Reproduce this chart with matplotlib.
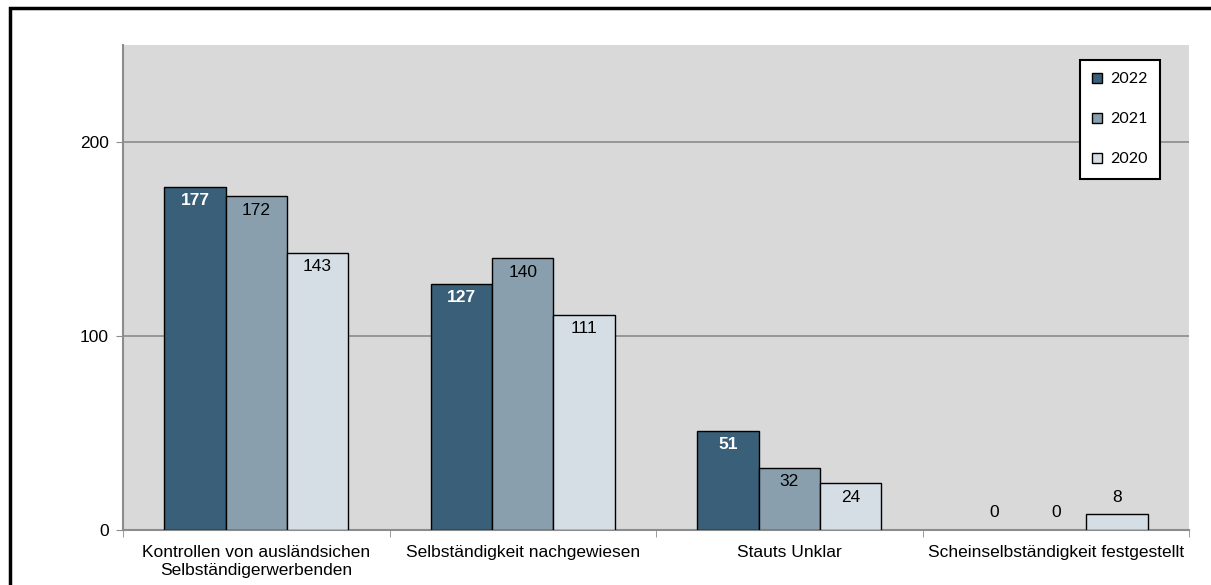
import matplotlib.pyplot as plt
import numpy as np
from matplotlib.patches import Rectangle

categories = ["Kontrollen von ausländsichen\nSelbständigerwerbenden",
              "Selbständigkeit nachgewiesen",
              "Stauts Unklar",
              "Scheinselbständigkeit festgestellt"]
years = ["2022", "2021", "2020"]
v2022 = [177, 127, 51, 0]
v2021 = [172, 140, 32, 0]
v2020 = [143, 111, 24, 8]

colors = ["#3a5f78", "#8a9fae", "#d6dee5"]
series = [v2022, v2021, v2020]

plt.rcParams["font.family"] = ["Liberation Sans", "DejaVu Sans"]

fig = plt.figure(figsize=(12.11, 5.85), dpi=100)
ax = fig.add_axes([123 / 1211, 1 - 530 / 585, (1189 - 123) / 1211, (530 - 45) / 585])
ax.set_facecolor("#d9d9d9")

x = np.arange(len(categories))
w = 0.23
fs = 12.5
for k, (vals, c, lab) in enumerate(zip(series, colors, years)):
    xs = x + (k - 1) * w
    lws = [1.0 if v > 0 else 0 for v in vals]
    ax.bar(xs, vals, w, color=c, edgecolor="black", linewidth=lws,
           label=lab, zorder=3)
    for xi, v in zip(xs, vals):
        if v >= 20:
            ax.annotate(str(v), (xi, v), xytext=(0, -10), textcoords="offset points",
                        ha="center", va="center", fontsize=fs,
                        color="white" if k == 0 else "black",
                        fontweight="bold" if k == 0 else "normal", zorder=4)
        else:
            ax.annotate(str(v), (xi, v), xytext=(0, 12.5), textcoords="offset points",
                        ha="center", va="center", fontsize=fs, color="black", zorder=4)

ax.set_xlim(-0.5, len(categories) - 0.5)
ax.set_ylim(0, 250)
ax.set_yticks([0, 100, 200])
ax.tick_params(axis="y", labelsize=fs, length=5, color="#8c8c8c", pad=5)
ax.yaxis.grid(True, color="#8c8c8c", linewidth=1.2, zorder=0)
ax.set_axisbelow(True)

ax.set_xticks(x)
ax.set_xticklabels(categories, fontsize=fs, linespacing=1.2)
ax.tick_params(axis="x", length=0, pad=11)
ax.set_xticks(np.arange(-0.5, len(categories)), minor=True)
ax.tick_params(axis="x", which="minor", length=5, color="#8c8c8c")

for s in ["top", "right"]:
    ax.spines[s].set_visible(False)
for s in ["left", "bottom"]:
    ax.spines[s].set_color("#8c8c8c")
    ax.spines[s].set_linewidth(1.5)

leg = ax.legend(loc="upper right", bbox_to_anchor=(0.9728, 0.969), frameon=True,
                fancybox=False, edgecolor="black", framealpha=1,
                prop={"family": "Lato", "size": 11.5}, labelspacing=1.62,
                handlelength=0.6, handleheight=0.6, handletextpad=0.5,
                borderpad=0.78, borderaxespad=0)
leg.get_frame().set_linewidth(1.5)

fig.patches.append(Rectangle((10 / 1211, -0.1), 1.2, 1 - 8 / 585 + 0.1,
                             transform=fig.transFigure, fill=False,
                             edgecolor="black", linewidth=2.5))

fig.savefig("out.png", dpi=100)
